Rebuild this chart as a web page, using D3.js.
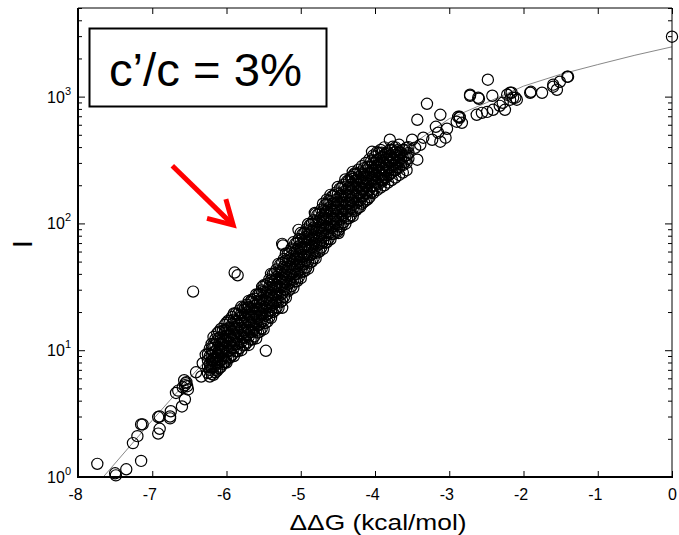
<!DOCTYPE html>
<html>
<head>
<meta charset="utf-8">
<script src="https://cdn.jsdelivr.net/npm/d3@7"></script>
<style>
  body { margin: 0; background: #fff; }
  text { font-family: Arial, "Liberation Sans", Helvetica, sans-serif; }
</style>
</head>
<body>
<svg id="chart"></svg>
<script>
// axis ticks
const xTicks = [-8, -7, -6, -5, -4, -3, -2, -1, 0];
const yMajor = [1, 10, 100, 1000];
const yExp = ["0", "1", "2", "3"];
const yMinor = [2, 3, 4, 5, 6, 7, 8, 9, 20, 30, 40, 50, 60, 70, 80, 90,
  200, 300, 400, 500, 600, 700, 800, 900, 2000, 3000, 4000, 5000];

// fitted curve (ddG, I)
const fitG = [-7.66, -7.0, -6.5, -6.0, -5.5, -5.0, -4.5, -4.0, -3.5, -3.0, -2.5, -2.0, -1.5, -1.0, -0.5, 0];
const fitI = [1.0, 2.8, 6.0, 12.5, 24, 52, 120, 250, 420, 670, 895, 1210, 1500, 1790, 2120, 2470];

// isolated points (ddG, I)
const sparse = [
  [-7.74, 1.27], [-7.50, 1.07], [-7.49, 1.03], [-7.35, 1.15], [-7.15, 1.34], [-7.26, 1.85],
  [-7.20, 2.1], [-7.15, 2.6], [-7.13, 2.6], [-6.92, 2.2], [-6.90, 2.4], [-6.92, 2.97],
  [-6.90, 3.0], [-6.76, 3.0], [-6.76, 2.9], [-6.75, 3.3], [-6.68, 4.6], [-6.65, 4.8],
  [-6.60, 3.6], [-6.56, 4.1], [-6.56, 5.3], [-6.55, 5.5], [-6.54, 5.6], [-6.53, 5.2],
  [-6.57, 5.8], [-6.52, 4.9], [-6.59, 5.1], [-6.41, 6.7], [-6.34, 6.2], [-6.32, 7.9],
  [-6.28, 9.2], [-6.22, 7.4], [-6.15, 6.7], [-6.14, 8.4], [-6.02, 8.1], [-6.07, 10],
  [-6.45, 29], [-5.89, 41], [-5.85, 39], [-5.25, 69], [-5.24, 67], [-5.47, 9.9],
  [-6.19, 8.4], [-6.02, 14.5], [-5.76, 20.8], [-5.66, 25], [-5.72, 21.6], [-5.52, 31.6],
  [-5.25, 21.6], [-5.03, 89], [-4.81, 121], [-4.65, 154], [-4.49, 84], [-4.49, 89],
  [-4.31, 233], [-4.28, 242], [-4.04, 178], [-4.04, 367], [-3.91, 361], [-3.91, 221],
  [-3.89, 221], [-3.80, 457], [-3.76, 403], [-3.72, 367], [-3.73, 265], [-3.50, 457],
  [-3.46, 395], [-3.43, 318], [-3.39, 417], [-3.35, 474], [-3.23, 457], [-3.15, 519],
  [-3.12, 441], [-3.05, 474], [-3.03, 558], [-3.18, 578], [-2.90, 634], [-2.86, 693],
  [-3.43, 657], [-3.30, 878], [-3.12, 719], [-2.88, 693], [-2.86, 681], [-2.83, 622],
  [-2.72, 1035], [-2.72, 1016], [-2.63, 719], [-2.61, 980], [-2.60, 962], [-2.56, 745],
  [-2.49, 758], [-2.48, 1360], [-2.42, 1016], [-2.41, 787], [-2.32, 846], [-2.28, 894],
  [-2.25, 787], [-2.22, 1035], [-2.18, 945], [-2.18, 1073], [-2.16, 1073], [-2.14, 980],
  [-2.11, 980], [-2.09, 945], [-1.91, 1073], [-1.90, 1092], [-1.75, 1073], [-1.60, 1243],
  [-1.60, 1197], [-1.55, 1133], [-1.51, 1310], [-1.41, 1435], [-1.40, 1435], [0.0, 2970]
];

// dense band, one column per ddG value
const bandCols = [
  [-6.25, [6.6, 7.4, 8.3, 9.3]],
  [-6.225, [6.2, 7.0, 7.8, 9.0, 10.3]],
  [-6.20, [6.5, 7.3, 8.2, 9.1, 10.2, 11.2]],
  [-6.175, [6.4, 7.3, 8.4, 9.6, 11.1, 12.7]],
  [-6.15, [7.0, 7.9, 8.8, 9.8, 11.0, 12.2]],
  [-6.125, [6.9, 7.8, 9.0, 10.3, 11.9, 13.6]],
  [-6.10, [7.2, 8.0, 9.0, 10.0, 11.2, 12.5, 14]],
  [-6.075, [7.4, 8.4, 9.7, 11.1, 12.8, 14.7]],
  [-6.05, [7.8, 8.6, 9.8, 11.2, 12.4, 14.2]],
  [-6.025, [8.0, 9.1, 10.4, 12.0, 13.8, 15.8]],
  [-6.00, [8.0, 9.0, 10.2, 11.7, 13.0, 14.6, 16.5]],
  [-5.975, [8.6, 9.8, 11.3, 12.9, 14.9, 17.1]],
  [-5.95, [8.8, 10.0, 11.5, 13.0, 14.8, 17]],
  [-5.925, [9.2, 10.5, 12.1, 13.9, 16.0, 18.3]],
  [-5.90, [9.0, 10.4, 11.8, 13.5, 15.2, 17.4, 19.5]],
  [-5.875, [9.8, 11.2, 12.8, 14.8, 17.0, 19.5]],
  [-5.85, [9.8, 11.2, 13.0, 14.8, 16.8, 19.2]],
  [-5.825, [10.4, 11.8, 13.6, 15.6, 18.0, 20.6]],
  [-5.80, [10.0, 11.6, 13.2, 15.0, 17.0, 19.5, 22]],
  [-5.775, [10.9, 12.5, 14.3, 16.5, 18.9, 21.7]],
  [-5.75, [11.0, 12.5, 14.4, 16.5, 18.8, 21.5]],
  [-5.725, [11.5, 13.1, 15.1, 17.3, 19.9, 22.8]],
  [-5.70, [11.0, 12.8, 14.5, 16.6, 19.0, 21.8, 24.5]],
  [-5.675, [12.1, 13.9, 15.9, 18.3, 21.0, 24.1]],
  [-5.65, [12.2, 14.0, 16.0, 18.4, 21.0, 24]],
  [-5.625, [12.9, 14.7, 16.8, 19.4, 22.3, 25.5]],
  [-5.60, [12.4, 14.4, 16.3, 18.6, 21.2, 24.4, 27.5]],
  [-5.575, [13.8, 15.7, 18.0, 20.8, 23.9, 27.4]],
  [-5.55, [14.0, 16.0, 18.4, 21.0, 24.2, 27.8]],
  [-5.525, [14.9, 17.0, 19.5, 22.5, 25.8, 29.6]],
  [-5.50, [14.6, 17.0, 19.4, 21.9, 25.0, 28.8, 32.5]],
  [-5.475, [16.4, 18.7, 21.5, 24.7, 28.4, 32.6]],
  [-5.45, [16.8, 19.2, 22.0, 25.5, 29.0, 33.5]],
  [-5.425, [18.2, 20.7, 23.8, 27.4, 31.5, 36.1]],
  [-5.40, [18.0, 20.5, 23.5, 27, 31, 35.5, 40]],
  [-5.375, [20.0, 22.8, 26.2, 30.2, 34.7, 39.8]],
  [-5.35, [20.5, 23.5, 27, 31, 35.5, 40.5]],
  [-5.325, [21.8, 24.9, 28.6, 32.8, 37.8, 43.3]],
  [-5.30, [21.5, 24.5, 28, 32, 37, 42, 48]],
  [-5.275, [23.9, 27.3, 31.3, 36.1, 41.5, 47.5]],
  [-5.25, [24.5, 28, 32.5, 37, 42.5, 49]],
  [-5.225, [26.4, 30.1, 34.6, 39.8, 45.8, 52.5]],
  [-5.20, [26, 30, 34, 39, 45, 51, 58]],
  [-5.175, [29.1, 33.2, 38.1, 43.9, 50.4, 57.8]],
  [-5.15, [30, 34, 39, 45, 51, 59]],
  [-5.125, [32, 36.5, 41.9, 48.2, 55.4, 63.5]],
  [-5.10, [31, 36, 41, 47, 54, 62, 71]],
  [-5.075, [34.8, 39.7, 45.6, 52.4, 60.3, 69.1]],
  [-5.05, [35, 40, 46, 53, 61, 70]],
  [-5.025, [37.9, 43.3, 49.7, 57.1, 65.7, 75.3]],
  [-5.00, [37, 43, 49, 56, 64, 74, 84]],
  [-4.975, [41.5, 47.3, 54.3, 62.5, 71.8, 82.3]],
  [-4.95, [42, 48, 55, 64, 73, 84]],
  [-4.925, [45.1, 51.4, 59.1, 67.9, 78.1, 89.5]],
  [-4.90, [44, 50, 57, 66, 76, 87, 99]],
  [-4.875, [49, 55.9, 64.2, 73.8, 84.9, 97.3]],
  [-4.85, [50, 57, 65, 75, 86, 99]],
  [-4.825, [53.5, 61.1, 70.1, 80.7, 92.7, 106]],
  [-4.80, [53, 60, 69, 79, 91, 104, 119]],
  [-4.775, [58.9, 67.1, 77.1, 88.7, 102, 117]],
  [-4.75, [60, 69, 79, 91, 104, 120]],
  [-4.725, [64.5, 73.6, 84.5, 97.3, 112, 128]],
  [-4.70, [63, 72, 83, 95, 109, 125, 143]],
  [-4.675, [70.2, 80.1, 92, 106, 122, 139]],
  [-4.65, [71, 81, 94, 108, 124, 142]],
  [-4.625, [76, 86.7, 99.5, 115, 132, 151]],
  [-4.60, [75, 85, 97, 112, 128, 148, 168]],
  [-4.575, [82.4, 94, 108, 124, 143, 164]],
  [-4.55, [83, 95, 109, 126, 144, 166]],
  [-4.525, [88, 100, 115, 133, 153, 175]],
  [-4.50, [86, 98, 112, 129, 148, 170, 194]],
  [-4.475, [94.4, 108, 124, 142, 164, 188]],
  [-4.45, [95, 109, 125, 145, 166, 190]],
  [-4.425, [102, 116, 133, 153, 176, 202]],
  [-4.40, [99, 113, 129, 148, 170, 195, 222]],
  [-4.375, [109, 124, 142, 164, 188, 216]],
  [-4.35, [110, 126, 145, 167, 191, 219]],
  [-4.325, [116, 133, 153, 175, 202, 231]],
  [-4.30, [114, 130, 149, 170, 195, 224, 255]],
  [-4.275, [125, 143, 164, 188, 216, 248]],
  [-4.25, [128, 146, 166, 190, 218, 245]],
  [-4.225, [133, 152, 175, 201, 231, 265]],
  [-4.20, [135, 152, 172, 195, 222, 252]],
  [-4.175, [143, 163, 187, 215, 247, 283]],
  [-4.15, [148, 166, 188, 214, 242, 272]],
  [-4.125, [151, 173, 198, 228, 262, 300]],
  [-4.10, [155, 174, 196, 219, 248, 280]],
  [-4.075, [161, 184, 211, 243, 279, 320]],
  [-4.05, [175, 198, 222, 250, 280, 312]],
  [-4.025, [173, 197, 226, 260, 299, 343]],
  [-4.00, [188, 212, 238, 266, 298, 335]],
  [-3.975, [183, 209, 240, 276, 317, 364]],
  [-3.95, [205, 230, 258, 288, 322, 360]],
  [-3.925, [192, 219, 251, 289, 332, 380]],
  [-3.90, [215, 240, 268, 300, 335]],
  [-3.875, [200, 228, 262, 302, 347, 398]],
  [-3.85, [230, 258, 290, 322, 358]],
  [-3.825, [210, 239, 274, 316, 363]],
  [-3.80, [245, 275, 308, 342, 380]],
  [-3.775, [220, 251, 288, 332, 381]],
  [-3.75, [262, 292, 325, 362]],
  [-3.725, [230, 262, 301, 347, 398]],
  [-3.70, [275, 305, 340, 378]],
  [-3.675, [241, 275, 315, 363, 417]],
  [-3.65, [292, 325, 362]],
  [-3.625, [252, 288, 330, 380]],
  [-3.60, [305, 340, 380]],
  [-3.575, [263, 300, 344, 396]],
  [-3.55, [325, 360, 400]]
];

// arrow annotation (ddG, I of tail and tip)
const arrowFrom = [-6.73, 285];
const arrowTo = [-5.91, 97];

const width = 679, height = 535;
const marginLeft = 78, marginRight = 7, marginTop = 8, marginBottom = 58;

const svg = d3.select("#chart")
    .attr("width", width)
    .attr("height", height)
    .attr("viewBox", [0, 0, width, height]);

const x = d3.scaleLinear([-8, 0], [marginLeft, width - marginRight]);
const y = d3.scaleLog([1, 5000], [height - marginBottom, marginTop]);

const points = sparse.concat(bandCols.flatMap(([g, vals]) => vals.map(v => [g, v])));

// fitted line
svg.append("path")
    .datum(d3.zip(fitG, fitI))
    .attr("fill", "none")
    .attr("stroke", "#888")
    .attr("stroke-width", 1)
    .attr("d", d3.line(d => x(d[0]), d => y(d[1])));

// data circles
svg.append("g")
    .attr("fill", "none")
    .attr("stroke", "#000")
    .attr("stroke-width", 1.2)
  .selectAll("circle")
  .data(points)
  .join("circle")
    .attr("cx", d => x(d[0]))
    .attr("cy", d => y(d[1]))
    .attr("r", 5.6);

// axes with inward ticks
const x0 = x.range()[0], x1 = x.range()[1];
const y0 = y.range()[0], y1 = y.range()[1];

svg.append("g")
    .attr("transform", `translate(0,${y0})`)
    .call(d3.axisBottom(x).tickValues(xTicks).tickSizeInner(-6).tickSizeOuter(0).tickPadding(12)
      .tickFormat(d => d))
    .call(g => g.select(".domain").remove())
    .call(g => g.selectAll(".tick line").attr("stroke-width", 1))
    .call(g => g.selectAll(".tick text").attr("font-size", 16).attr("fill", "#000")
      .attr("font-family", "Arial, 'Liberation Sans', sans-serif").attr("dx", d => d < 0 ? -3 : 0));

svg.append("g")
    .attr("transform", `translate(0,${y1})`)
    .call(d3.axisTop(x).tickValues(xTicks).tickSizeInner(-6).tickSizeOuter(0).tickFormat(""))
    .call(g => g.select(".domain").remove());

for (const [side, pos] of [["left", x0], ["right", x1]]) {
  const mk = side === "left" ? d3.axisLeft : d3.axisRight;
  svg.append("g")
      .attr("transform", `translate(${pos},0)`)
      .call(mk(y).tickValues(yMajor).tickSizeInner(-7).tickSizeOuter(0).tickFormat(""))
      .call(g => g.select(".domain").remove());
  svg.append("g")
      .attr("transform", `translate(${pos},0)`)
      .call(mk(y).tickValues(yMinor).tickSizeInner(-4).tickSizeOuter(0).tickFormat(""))
      .call(g => g.select(".domain").remove());
}

// y tick labels: 10^n
const ylab = svg.append("g")
    .attr("font-size", 16)
    .attr("text-anchor", "end")
  .selectAll("text")
  .data(yMajor)
  .join("text")
    .attr("x", x0 - 7)
    .attr("y", d => y(d) + 6);
ylab.append("tspan").text("10");
ylab.append("tspan").attr("dy", -8).attr("font-size", 11).text((d, i) => yExp[i]);

// frame
svg.append("line").attr("x1", x0).attr("x2", x1).attr("y1", y1).attr("y2", y1)
    .attr("stroke", "#000").attr("stroke-width", 1);
svg.append("line").attr("x1", x1).attr("x2", x1).attr("y1", y1).attr("y2", y0)
    .attr("stroke", "#000").attr("stroke-width", 1);
svg.append("line").attr("x1", x0).attr("x2", x0).attr("y1", y1).attr("y2", y0 + 1)
    .attr("stroke", "#000").attr("stroke-width", 2);
svg.append("line").attr("x1", x0 - 1).attr("x2", x1 + 1).attr("y1", y0).attr("y2", y0)
    .attr("stroke", "#000").attr("stroke-width", 2);

// axis titles
svg.append("text")
    .attr("x", 378)
    .attr("y", 530)
    .attr("text-anchor", "middle")
    .attr("font-size", 22)
    .attr("textLength", 177)
    .attr("lengthAdjust", "spacingAndGlyphs")
    .text("\u0394\u0394G (kcal/mol)");

svg.append("text")
    .attr("transform", "translate(32,244) rotate(-90)")
    .attr("text-anchor", "middle")
    .attr("font-size", 28)
    .text("I");

// annotation box
svg.append("rect")
    .attr("x", 89.5).attr("y", 28.5)
    .attr("width", 237).attr("height", 78)
    .attr("fill", "#fff")
    .attr("stroke", "#000")
    .attr("stroke-width", 2);
svg.append("text")
    .attr("x", 109)
    .attr("y", 86)
    .attr("font-size", 47)
    .attr("textLength", 193)
    .attr("lengthAdjust", "spacingAndGlyphs")
    .text("c\u2019/c = 3%");

// red arrow
const ax0 = x(arrowFrom[0]), ay0 = y(arrowFrom[1]);
const ax1 = x(arrowTo[0]), ay1 = y(arrowTo[1]);
const ang = Math.atan2(ay0 - ay1, ax0 - ax1);
const headLen = 27, spread = Math.PI / 6;
const h1 = [ax1 + headLen * Math.cos(ang - spread), ay1 + headLen * Math.sin(ang - spread)];
const h2 = [ax1 + headLen * Math.cos(ang + spread), ay1 + headLen * Math.sin(ang + spread)];
const arrow = svg.append("g")
    .attr("fill", "none")
    .attr("stroke", "#f00")
    .attr("stroke-width", 5);
arrow.append("line")
    .attr("x1", ax0).attr("y1", ay0)
    .attr("x2", ax1 - 3).attr("y2", ay1 - 3);
arrow.append("path")
    .attr("stroke-linejoin", "miter")
    .attr("d", `M${h1}L${ax1},${ay1}L${h2}`);
</script>
</body>
</html>
